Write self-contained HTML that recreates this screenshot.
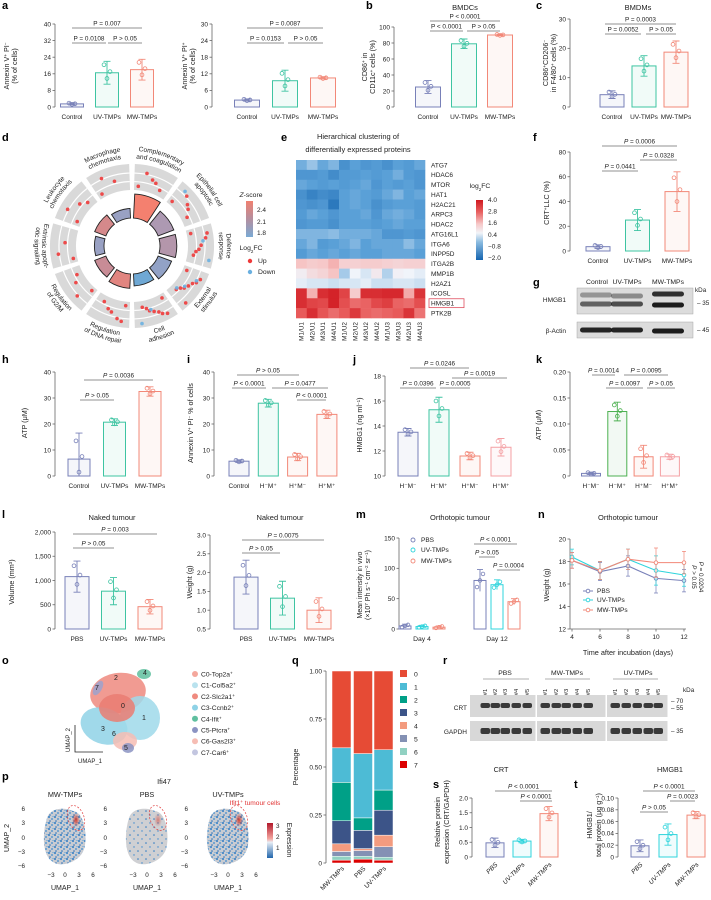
<!DOCTYPE html>
<html><head><meta charset="utf-8">
<style>
html,body{margin:0;padding:0;background:#fff;}
svg{display:block;font-family:"Liberation Sans",sans-serif;}
</style></head>
<body>
<svg id="fig" width="711" height="900" viewBox="0 0 711 900" xmlns="http://www.w3.org/2000/svg">
<defs>
<linearGradient id="zgrad" x1="0" y1="0" x2="0" y2="1"><stop offset="0" stop-color="#f08070"/><stop offset="0.5" stop-color="#b48fa0"/><stop offset="1" stop-color="#7aaad4"/></linearGradient>
<linearGradient id="fcgrad" x1="0" y1="0" x2="0" y2="1"><stop offset="0" stop-color="#d0181f"/><stop offset="0.2" stop-color="#e86060"/><stop offset="0.4" stop-color="#f6c8c8"/><stop offset="0.55" stop-color="#f2f4f8"/><stop offset="0.7" stop-color="#8cbce0"/><stop offset="1" stop-color="#1565b0"/></linearGradient>
<linearGradient id="exgrad" x1="0" y1="0" x2="0" y2="1"><stop offset="0" stop-color="#b2182b"/><stop offset="0.45" stop-color="#f4a6a0"/><stop offset="0.55" stop-color="#e8eef5"/><stop offset="1" stop-color="#2166ac"/></linearGradient>
<pattern id="dotsDense" width="6" height="6" patternUnits="userSpaceOnUse"><rect width="6" height="6" fill="#c9ccd2"/><circle cx="1" cy="1" r="1" fill="#2f7cc4"/><circle cx="4" cy="3" r="0.9" fill="#3a8ad0"/><circle cx="2" cy="5" r="0.8" fill="#2a6fb8"/><circle cx="5" cy="0.5" r="0.6" fill="#5aa0d8"/></pattern>
<pattern id="dotsSparse" width="8" height="8" patternUnits="userSpaceOnUse"><rect width="8" height="8" fill="#cfd0d3"/><circle cx="2" cy="3" r="0.8" fill="#2f7cc4"/><circle cx="6" cy="7" r="0.7" fill="#3a8ad0"/></pattern>
<radialGradient id="hot" cx="0.5" cy="0.5" r="0.5"><stop offset="0" stop-color="#d7301f"/><stop offset="1" stop-color="#d7301f" stop-opacity="0"/></radialGradient>
</defs>
</svg>
<script>
// ---------------- DATA ----------------
const groups3 = ["Control","UV-TMPs","MW-TMPs"];
const groupsPBS = ["PBS","UV-TMPs","MW-TMPs"];
const groupsHM = ["H\u207bM\u207b","H\u207bM\u207a","H\u207aM\u207b","H\u207aM\u207a"];
const groupsHMc = ["Control","H\u207bM\u207a","H\u207aM\u207b","H\u207aM\u207a"];
const a1Vals=[1.5,16.5,18]; const a1Err=[0.5,5.5,5];
const a2Vals=[2.5,9.5,10.5]; const a2Err=[0.4,3.8,0.4];
const bVals=[25,79,90]; const bErr=[8,6,1];
const cVals=[4.2,14,18.7]; const cErr=[1.3,3.5,3.8];
const fVals=[3.5,25,48]; const fErr=[1.5,8.5,16];
const hVals=[6.5,20.7,32.5]; const hErr=[10,1.3,1.8];
const iVals=[5.7,28,7.3,23.7]; const iErr=[0.5,1.5,1.4,1.6];
const jVals=[13.5,15.3,11.6,12.3]; const jErr=[0.3,1.0,0.3,0.7];
const kVals=[0.005,0.124,0.037,0.037]; const kErr=[0.002,0.018,0.022,0.005];
const l1Vals=[1080,780,460]; const l1Err=[320,280,150];
const l2Vals=[1.88,1.32,1.0]; const l2Err=[0.45,0.45,0.33];
const mDays=["Day 4","Day 12"];
const mPBS=[5,80]; const mUV=[4,73]; const mMW=[3,45];
const mPBSErr=[3,18]; const mUVErr=[2,8]; const mMWErr=[2,5];
const nDays=[4,6,8,10,12];
const nPBS=[18.1,17.1,17.6,16.5,16.3]; const nUV=[18.4,17.2,18.2,17.2,16.8]; const nMW=[18.1,17.2,18.2,17.9,17.9];
const nErr=[0.7,0.8,0.9,1.3,1.0];
const sVals=[0.48,0.54,1.47]; const sErr=[0.16,0.06,0.24];
const tVals=[0.019,0.038,0.071]; const tErr=[0.01,0.018,0.006];
const qCats=["MW-TMPs","PBS","UV-TMPs"];
const qClusters=["0","1","2","3","4","5","6","7"];
const qMW=[0.40,0.18,0.20,0.12,0.04,0.025,0.02,0.015];
const qPBS=[0.43,0.335,0.065,0.095,0.01,0.03,0.015,0.02];
const qUV=[0.41,0.21,0.105,0.13,0.06,0.055,0.015,0.015];
const heatRows=["ATG7","HDAC6","MTOR","HAT1","H2AC21","ARPC3","HDAC2","ATG16L1","ITGA6","INPP5D","ITGA2B","MMP1B","H2AZ1","ICOSL","HMGB1","PTK2B"];
const heatCols=["M1/U1","M2/U1","M3/U1","M4/U1","M1/U2","M2/U2","M3/U2","M4/U2","M1/U3","M3/U3","M2/U3","M4/U3"];
const heatVals=[
[-0.6,-0.3,-0.7,-0.5,-1.1,-0.8,-1.0,-0.9,-1.1,-0.8,-0.9,-0.7],
[-1.0,-1.0,-0.9,-1.2,-0.9,-0.9,-0.8,-0.9,-0.8,-0.6,-0.9,-1.0],
[-0.7,-0.8,-0.9,-0.8,-0.9,-0.8,-0.7,-1.0,-0.8,-0.9,-0.8,-1.0],
[-1.1,-1.4,-1.2,-1.3,-0.8,-0.7,-0.8,-0.9,-0.7,-0.5,-0.8,-0.7],
[-1.0,-1.1,-1.0,-1.6,-0.8,-0.7,-0.8,-1.1,-0.9,-0.8,-0.8,-0.9],
[-0.9,-0.7,-0.8,-1.0,-0.8,-0.8,-0.7,-1.0,-0.7,-0.6,-0.7,-0.9],
[-1.0,-0.9,-0.9,-1.1,-0.8,-0.8,-0.8,-0.9,-0.8,-0.7,-0.8,-0.8],
[-0.5,-0.5,-0.5,-0.4,-0.6,-0.6,-0.6,-0.7,-1.0,-1.0,-0.9,-1.0],
[-0.7,-0.5,-0.9,-0.8,-0.7,-0.5,-0.8,-0.7,-0.7,-0.7,-0.4,-0.7],
[-0.9,-0.7,-0.8,-0.7,-0.8,-0.7,-0.8,-0.8,-0.7,-0.7,-0.7,-0.8],
[1.6,1.4,1.5,1.8,1.3,1.3,1.4,1.4,1.3,1.2,1.3,1.3],
[0.6,1.0,1.2,1.6,-0.2,0.4,0.2,0.7,-0.1,0.5,0.4,0.3],
[0.3,0.2,0.2,0.1,0.2,0.2,0.3,0.1,0.1,0.2,0.2,0.1],
[3.6,1.8,3.6,3.8,3.2,1.4,3.6,3.6,3.7,3.7,1.9,3.5],
[3.6,3.2,3.1,3.8,3.0,2.6,2.7,3.1,3.3,2.7,2.6,3.0],
[2.8,3.6,2.9,2.6,2.8,3.4,2.7,2.6,2.7,2.8,3.5,2.5]];
const goTerms=[["Complementary","and coagulation"],["Epithelial cell","apoptotic"],["Defence","response"],["External","stimulus"],["Cell","adhesion"],["Regulation","of DNA repair"],["Regulation","of G2/M"],["Extrinsic apopt-","otic signaling"],["Leukocyte","chemotaxis"],["Macrophage","chemotaxis"]];
const goZ=[2.7,2.15,2.2,1.95,1.7,2.55,2.35,2.0,2.45,2.0];
const goCount=[10,7,7,6,5,6,5,4,5,4];
const goUp=[5,5,7,9,8,6,4,3,4,3];
const goDown=[0,1,2,3,2,0,0,0,0,0];
const umapClusters=["C0-Top2a","C1-Col5a2","C2-Slc2a1","C3-Ccnb2","C4-Ifit","C5-Ptcra","C6-Gas2l3","C7-Car6"];

// ---------------- HELPERS ----------------
const NS="http://www.w3.org/2000/svg";
const svg=document.getElementById("fig");
const C_CTRL="#7880b8", C_UV="#3ec4a2", C_MW="#f28878", C_GREEN="#4cb050", C_PINK="#f4a0a4", C_CYAN="#2fd4dc";
function mk(tag,attrs,parent){const e=document.createElementNS(NS,tag);for(const k in attrs)e.setAttribute(k,attrs[k]);(parent||svg).appendChild(e);return e;}
function T(x,y,s,opt){const t=mk("text",Object.assign({x:x,y:y,"font-size":6.8,"text-anchor":"middle",fill:"#222"},opt||{}));t.innerHTML=s;return t;}
const sup=s=>'<tspan baseline-shift="super" font-size="4.6">'+s+'</tspan>';
function label(x,y,s,name,opt){const t=T(x,y,s,opt);


return t;}
function rlabel(x,y,s,name,size){const t=T(x,y,s,{transform:"rotate(-90 "+x+" "+y+")","font-size":size||7.2});


return t;}
function letter(x,y,s){const t=T(x,y,s,{"font-size":11,"font-weight":"bold","text-anchor":"start",fill:"#000"});

}
function bracket(x1,x2,y,s){const l=mk("line",{x1:x1,x2:x2,y1:y,y2:y,stroke:"#a8a8a8","stroke-width":1.3});


const t=T((x1+x2)/2,y-2.3,s,{"font-size":6.4});

}
function yAxis(cfg,ticks,labels){
 const y=v=>cfg.yBot-(v-cfg.min)/(cfg.max-cfg.min)*(cfg.yBot-cfg.yTop);
 const ax=mk("line",{x1:cfg.ax,x2:cfg.ax,y1:cfg.yBot,y2:cfg.yTop,stroke:"#666","stroke-width":0.8});
 
 
 ticks.forEach((v,i)=>{
  const tk=mk("line",{x1:cfg.ax-2.5,x2:cfg.ax,y1:y(v),y2:y(v),stroke:"#666","stroke-width":0.8});
  
  
  const tl=T(cfg.ax-4,y(v)+2.3,labels[i],{"text-anchor":"end","font-size":6.5});
  
  
 });
 return y;
}
function barChart(cfg,cats,vals,errs,cols,ticks,labels){
 const y=yAxis(cfg,ticks,labels);
 const x=i=>cfg.x0+i*cfg.step;
 vals.forEach((v,i)=>{
  const b=mk("rect",{x:x(i)-cfg.bw/2,y:y(v),width:cfg.bw,height:cfg.yBot-y(v),fill:cols[i],"fill-opacity":0.07,stroke:cols[i],"stroke-width":1});
  
  
  const e=errs[i], lo=Math.max(cfg.min,v-e);
  const el=mk("path",{d:"M"+x(i)+","+y(lo)+"V"+y(v+e)+"M"+(x(i)-3.5)+","+y(v+e)+"h7M"+(x(i)-3.5)+","+y(lo)+"h7",stroke:cols[i],"stroke-width":0.9,fill:"none"});
  
  
  [[-3,0.7],[0,-0.5],[3,0.1]].forEach(p=>{
   const c=mk("circle",{cx:x(i)+p[0],cy:y(Math.max(cfg.min,v+p[1]*e)),r:1.9,fill:"none",stroke:cols[i],"stroke-width":0.8});
   
   
  });
  let cl;
  if(cfg.rot){cl=T(x(i)+3,cfg.yBot+8,cats[i],{"text-anchor":"end","font-size":6.5,transform:"rotate(-45 "+(x(i)+3)+" "+(cfg.yBot+8)+")","font-style":"italic"});}
  else cl=T(x(i),cfg.yBot+12,cats[i],{"font-size":6.5});
  
  
 });
 return y;
}

// ---------------- PANEL LETTERS ----------------
[["a",2,9],["b",366,9],["c",536,9],["d",2,141],["e",281,141],["f",533,141],["g",533,286],["h",2,363],["i",187,363],["j",353,363],["k",536,363],["l",2,518],["m",356,518],["n",538,518],["o",2,664],["p",2,780],["q",292,664],["r",443,664],["s",433,788],["t",574,788]].forEach(a=>letter(a[1],a[2],a[0]));

// ---------------- a ----------------
barChart({name:"a1",ax:55,yBot:107,yTop:24,min:0,max:40,x0:72,step:35,bw:23},groups3,a1Vals,a1Err,[C_CTRL,C_UV,C_MW],[0,8,16,24,32,40],["0","8","16","24","32","40"]);
bracket(72,142,28,"P = 0.007"); bracket(72,106,43,"P = 0.0108"); bracket(108,142,43,"P > 0.05");
rlabel(9,66,"Annexin V"+sup("+")+" PI"+sup("\u2212"),"y-axis-title-a1"); rlabel(17,66,"(% of cells)","y-axis-title-a1b");
barChart({name:"a2",ax:212,yBot:107,yTop:24,min:0,max:30,x0:247,step:38,bw:25},groups3,a2Vals,a2Err,[C_CTRL,C_UV,C_MW],[0,6,12,18,24,30],["0","6","12","18","24","30"]);
bracket(247,323,28,"P = 0.0087"); bracket(247,284,43,"P = 0.0153"); bracket(288,323,43,"P > 0.05");
rlabel(187,66,"Annexin V"+sup("+")+" PI"+sup("+"),"y-axis-title-a2"); rlabel(195,66,"(% of cells)","y-axis-title-a2b");
// b
label(465,10,"BMDCs","title-b",{"font-size":7.5});
barChart({name:"b",ax:394,yBot:107,yTop:27,min:0,max:100,x0:428,step:36,bw:25},groups3,bVals,bErr,[C_CTRL,C_UV,C_MW],[0,20,40,60,80,100],["0","20","40","60","80","100"]);
bracket(430,500,21,"P &lt; 0.0001"); bracket(430,463,31,"P &lt; 0.0001"); bracket(467,500,31,"P &gt; 0.05");
rlabel(367,67,"CD86"+sup("+")+" in","y-axis-title-b"); rlabel(375,67,"CD11c"+sup("+")+" cells (%)","y-axis-title-b2");
// c
label(638,10,"BMDMs","title-c",{"font-size":7.5});
barChart({name:"c",ax:570,yBot:107,yTop:19,min:0,max:30,x0:612,step:32,bw:24},groups3,cVals,cErr,[C_CTRL,C_UV,C_MW],[0,10,20,30],["0","10","20","30"]);
bracket(605,676,24,"P = 0.0003"); bracket(605,641,34,"P = 0.0052"); bracket(646,676,34,"P &gt; 0.05");
rlabel(548,63,"CD86"+sup("+")+"CD206"+sup("\u2212"),"y-axis-title-c"); rlabel(556,63,"in F4/80"+sup("+")+" cells (%)","y-axis-title-c2");

// ---------------- d: circular GO plot ----------------
(function(){
 const cx=132, cy=246;
 const P=(a,r)=>[cx+r*Math.sin(a*Math.PI/180), cy-r*Math.cos(a*Math.PI/180)];
 const sector=(a1,a2,r1,r2)=>{const p1=P(a1,r2),p2=P(a2,r2),p3=P(a2,r1),p4=P(a1,r1);return "M"+p1+"A"+r2+","+r2+" 0 0 1 "+p2+"L"+p3+"A"+r1+","+r1+" 0 0 0 "+p4+"Z";};
 const zcol=z=>{const stops=[[1.7,[111,168,212]],[2.05,[160,160,192]],[2.35,[200,140,150]],[2.7,[244,128,111]]];
  for(let i=0;i<stops.length-1;i++){if(z<=stops[i+1][0]){const t=Math.max(0,(z-stops[i][0])/(stops[i+1][0]-stops[i][0]));const c=stops[i][1].map((v,k)=>Math.round(v+(stops[i+1][1][k]-v)*t));return "rgb("+c+")";}}
  return "rgb(244,128,111)";};
 const defs=svg.querySelector("defs");
 goTerms.forEach((term,i)=>{
  const mid=18+36*i, a1=mid-16, a2=mid+16;
  const g=mk("path",{d:sector(a1,a2,56,82),fill:"#d9d9d9"});
  
  
  [64.5,73].forEach(r=>{const p1=P(a1,r),p2=P(a2,r);const ln=mk("path",{d:"M"+p1+"A"+r+","+r+" 0 0 1 "+p2,stroke:"#fff","stroke-width":1.2,fill:"none"});
   
   });
  const bar=mk("path",{d:sector(mid-15,mid+15,28,28+goCount[i]*2.4),fill:zcol(goZ[i]),stroke:"#222","stroke-width":0.9});
  
  
  const n=goUp[i]+goDown[i];
  for(let k=0;k<n;k++){
   const frac=((k*0.618)%1), ang=a1+4+frac*(a2-a1-8), rr=60+((k*0.37)%1)*19;
   const p=P(ang,rr);
   const d=mk("circle",{cx:p[0],cy:p[1],r:1.8,fill:k<goUp[i]?"#ee3a3a":"#6ab0e0","fill-opacity":0.9});
   
   
  }
  const bottom = mid>100 && mid<290;
  term.forEach((line,li)=>{
   const r = bottom ? (li===0?90:97.5) : (li===0?95:87.5);
   const id="goarc"+i+"_"+li;
   const s1=P(mid-32,r), s2=P(mid+32,r);
   const d = bottom ? "M"+s2+"A"+r+","+r+" 0 0 0 "+s1 : "M"+s1+"A"+r+","+r+" 0 0 1 "+s2;
   mk("path",{id:id,d:d,fill:"none"},defs);
   const t=mk("text",{"font-size":6.6,fill:"#222"});
   
   
   const tp=mk("textPath",{href:"#"+id,startOffset:"50%","text-anchor":"middle"},t);
   tp.textContent=line;
  });
 });
 label(251,197,"<tspan font-style='italic'>Z</tspan>-score","zscore-legend-title",{"font-size":6.8});
 const zg=mk("rect",{x:246,y:201,width:7,height:36,fill:"url(#zgrad)"});
 
 
 [["2.4",212],["2.1",224],["1.8",235]].forEach(a=>label(257,a[1],a[0],"zscore-tick",{"text-anchor":"start","font-size":6.5}));
 label(251,250,"Log"+'<tspan baseline-shift="sub" font-size="4.5">2</tspan>'+"FC","log2fc-legend-title",{"font-size":6.8});
 [["Up","#ee3a3a",263],["Down","#6ab0e0",274]].forEach(a=>{
  const c=mk("circle",{cx:250,cy:a[2]-2,r:2.2,fill:a[1]});
  
  
  label(258,a[2],a[0],"legend-label",{"text-anchor":"start","font-size":6.8});
 });
})();

// ---------------- e: heatmap ----------------
(function(){
 const x0=296,y0=160,cw=10.75,rh=10.6;
 const stops=[[-2,[21,101,176]],[-0.8,[90,160,215]],[0.4,[240,244,250]],[1.6,[246,196,196]],[2.8,[232,90,90]],[4,[208,24,31]]];
 const col=v=>{for(let i=0;i<stops.length-1;i++){if(v<=stops[i+1][0]){const t=Math.max(0,(v-stops[i][0])/(stops[i+1][0]-stops[i][0]));return "rgb("+stops[i][1].map((c,k)=>Math.round(c+(stops[i+1][1][k]-c)*t))+")";}}return "rgb(208,24,31)";};
 label(358,139,"Hierarchical clustering of","heatmap-title",{"font-size":7.5});
 label(358,152,"differentially expressed proteins","heatmap-title-2",{"font-size":7.5});
 const rows=heatRows.slice(0,heatVals.length);
 // use 15 visible rows (drop duplicate ordering if any)
 const visible=[0,1,2,3,4,5,6,7,8,9,10,11,12,13,14,15].filter(i=>i<heatVals.length);
 const rh2=(318-y0)/visible.length;
 visible.forEach((ri,r)=>{
  heatVals[ri].forEach((v,c)=>{
   const cell=mk("rect",{x:x0+c*cw,y:y0+r*rh2,width:cw+0.3,height:rh2+0.3,fill:col(v)});
   
   
  });
  label(431,y0+r*rh2+rh2/2+2.4,heatRows[ri],"heatmap-row-label",{"text-anchor":"start","font-size":6.5});
 });
 const hb=mk("rect",{x:429,y:y0+14*rh2+0.5,width:35,height:rh2-1,fill:"none",stroke:"#e05060","stroke-width":0.8});
 
 
 heatCols.forEach((s,c)=>{const x=x0+c*cw+cw/2+2.3;const t=T(x,322,s,{"text-anchor":"end","font-size":6.4,transform:"rotate(-90 "+x+" 322)"});
  
  });
 label(480,188,"log"+'<tspan baseline-shift="sub" font-size="4.5">2</tspan>'+"FC","heatmap-legend-title",{"font-size":6.8});
 const cb=mk("rect",{x:476,y:200,width:7,height:60,fill:"url(#fcgrad)"});
 
 
 ["4.0","2.8","1.6","0.4","\u22120.8","\u22122.0"].forEach((s,i)=>label(488,202+i*11.6,s,"colorbar-tick",{"text-anchor":"start","font-size":6.5}));
})();

// ---------------- f ----------------
barChart({name:"f",ax:570,yBot:251,yTop:152,min:0,max:80,x0:598,step:39.5,bw:24},groups3,fVals,fErr,[C_CTRL,C_UV,C_MW],[0,20,40,60,80],["0","20","40","60","80"]);
bracket(602,677,146,"<tspan font-style='italic'>P</tspan> = 0.0006"); bracket(640,677,160,"<tspan font-style='italic'>P</tspan> = 0.0328"); bracket(602,638,171,"<tspan font-style='italic'>P</tspan> = 0.0441");
rlabel(549,203,"CRT"+sup("+")+"LLC (%)","y-axis-title-f");

// ---------------- g: western blot ----------------
(function(){
 [["Control",597],["UV-TMPs",627],["MW-TMPs",668]].forEach(a=>label(a[1],284,a[0],"blot-lane-label",{"font-size":6.8}));
 const b1=mk("rect",{x:577,y:288,width:116,height:26,fill:"#dcdcdc",stroke:"#999","stroke-width":0.4});
 
 
 const b2=mk("rect",{x:577,y:322,width:116,height:16,fill:"#dcdcdc",stroke:"#999","stroke-width":0.4});
 
 
 [[596,295,0.35],[596,304,0.6],[627,296,0.4],[627,304,0.7],[668,294,0.85],[668,305,0.95],[596,330,0.9],[627,330,0.9],[668,331,0.95]].forEach(b=>{
  const r=mk("rect",{x:b[0]-16,y:b[1]-2.5,width:32,height:5,rx:2.5,fill:"#111","fill-opacity":b[2]});
  
  
 });
 label(566,302,"HMGB1","blot-row-label",{"text-anchor":"end","font-size":6.5});
 label(566,333,"\u03b2-Actin","blot-row-label",{"text-anchor":"end","font-size":6.5});
 label(695,292,"kDa","kda-label",{"text-anchor":"start","font-size":6.3});
 label(697,305,"\u2013 35","kda-35",{"text-anchor":"start","font-size":6.3});
 label(697,332,"\u2013 45","kda-45",{"text-anchor":"start","font-size":6.3});
})();

// ---------------- h i j k ----------------
barChart({name:"h",ax:55,yBot:476,yTop:372,min:0,max:40,x0:79,step:35.5,bw:22},groups3,hVals,hErr,[C_CTRL,C_UV,C_MW],[0,10,20,30,40],["0","10","20","30","40"]);
bracket(84,153,380,"<tspan font-style='italic'>P</tspan> = 0.0036"); bracket(80,114,400,"<tspan font-style='italic'>P</tspan> &gt; 0.05");
rlabel(27,423,"ATP (\u03bcM)","y-axis-title-h");
barChart({name:"i",ax:214,yBot:476,yTop:372,min:0,max:40,x0:239,step:29.3,bw:20},groupsHMc,iVals,iErr,[C_CTRL,C_UV,C_MW,C_MW],[0,10,20,30,40],["0","10","20","30","40"]);
bracket(237,299,375,"<tspan font-style='italic'>P</tspan> &gt; 0.05"); bracket(232,266,388,"<tspan font-style='italic'>P</tspan> &lt; 0.0001"); bracket(272,328,388,"<tspan font-style='italic'>P</tspan> = 0.0477"); bracket(297,326,400,"<tspan font-style='italic'>P</tspan> &lt; 0.0001");
rlabel(193,423,"Annexin V"+sup("+")+" PI"+sup("\u2212")+" % of cells","y-axis-title-i");
barChart({name:"j",ax:385,yBot:476,yTop:376,min:10,max:18,x0:408,step:31,bw:20},groupsHM,jVals,jErr,[C_CTRL,C_UV,C_MW,C_PINK],[10,12,14,16,18],["10","12","14","16","18"]);
bracket(410,469,368,"<tspan font-style='italic'>P</tspan> = 0.0246"); bracket(452,507,378,"<tspan font-style='italic'>P</tspan> = 0.0019"); bracket(400,436,388,"<tspan font-style='italic'>P</tspan> = 0.0396"); bracket(440,470,388,"<tspan font-style='italic'>P</tspan> = 0.0005");
rlabel(362,425,"HMBG1 (ng ml"+sup("\u22121")+")","y-axis-title-j");
barChart({name:"k",ax:570,yBot:476,yTop:372,min:0,max:0.20,x0:591,step:26.3,bw:19},groupsHM,kVals,kErr,[C_CTRL,C_GREEN,C_MW,C_PINK],[0,0.05,0.10,0.15,0.20],["0","0.05","0.10","0.15","0.20"]);
bracket(592,615,375,"<tspan font-style='italic'>P</tspan> = 0.0014"); bracket(624,668,375,"<tspan font-style='italic'>P</tspan> = 0.0095"); bracket(606,643,388,"<tspan font-style='italic'>P</tspan> = 0.0097"); bracket(647,675,388,"<tspan font-style='italic'>P</tspan> &gt; 0.05");
rlabel(541,425,"ATP (\u03bcM)","y-axis-title-k");

// ---------------- l ----------------
label(112,520,"Naked tumour","title-l1",{"font-size":7.5});
barChart({name:"l1",ax:55,yBot:629,yTop:532,min:0,max:2000,x0:77,step:36.5,bw:24},groupsPBS,l1Vals,l1Err,[C_CTRL,C_UV,C_MW],[0,500,1000,1500,2000],["0","500","1,000","1,500","2,000"]);
bracket(73,157,534,"<tspan font-style='italic'>P</tspan> = 0.003"); bracket(73,114,548,"<tspan font-style='italic'>P</tspan> &gt; 0.05");
rlabel(14,582,"Volume (mm"+sup("3")+")","y-axis-title-l1");
label(280,520,"Naked tumour","title-l2",{"font-size":7.5});
barChart({name:"l2",ax:210,yBot:629,yTop:535,min:0.5,max:3.0,x0:246,step:36.5,bw:24},groupsPBS,l2Vals,l2Err,[C_CTRL,C_UV,C_MW],[0.5,1,1.5,2,2.5,3],["0.5","1.0","1.5","2.0","2.5","3.0"]);
bracket(242,324,540,"<tspan font-style='italic'>P</tspan> = 0.0075"); bracket(242,280,553,"<tspan font-style='italic'>P</tspan> &gt; 0.05");
rlabel(192,582,"Weight (g)","y-axis-title-l2");

// ---------------- m ----------------
(function(){
 label(460,520,"Orthotopic tumour","title-m",{"font-size":7.5});
 const y=yAxis({ax:399,yBot:629,yTop:538,min:0,max:150},[0,50,100,150],["0","50","100","150"]);
 const centers=[422,497], off=17;
 const series=[[mPBS,mPBSErr,C_CTRL],[mUV,mUVErr,C_CYAN],[mMW,mMWErr,C_MW]];
 mDays.forEach((d,di)=>{
  series.forEach((s,si)=>{
   const x=centers[di]+(si-1)*off, v=s[0][di], e=s[1][di];
   const b=mk("rect",{x:x-6,y:y(v),width:12,height:629-y(v),fill:"none",stroke:s[2],"stroke-width":1});
   
   
   const eb=mk("path",{d:"M"+x+","+y(Math.max(0,v-e))+"V"+y(v+e)+"M"+(x-3)+","+y(v+e)+"h6",stroke:s[2],"stroke-width":0.9,fill:"none"});
   
   
   [-3,0,3].forEach((dx,k)=>{const c=mk("circle",{cx:x+dx,cy:y(Math.max(0,v+(k-1)*e*0.6)),r:1.8,fill:"none",stroke:s[2],"stroke-width":0.8});
    
    });
  });
  label(centers[di],641,d,"x-category-label",{"font-size":6.8});
 });
 [["PBS",C_CTRL,542],["UV-TMPs",C_CYAN,552],["MW-TMPs",C_MW,563]].forEach(a=>{
  const c=mk("circle",{cx:413,cy:a[2]-2,r:2,fill:"none",stroke:a[1],"stroke-width":0.9});
  
  
  label(421,a[2],a[0],"legend-label",{"text-anchor":"start","font-size":6.5});
 });
 bracket(474,517,544,"<tspan font-style='italic'>P</tspan> &lt; 0.0001"); bracket(479,495,557,"<tspan font-style='italic'>P</tspan> &gt; 0.05"); bracket(497,520,570,"<tspan font-style='italic'>P</tspan> = 0.0004");
 rlabel(362,585,"Mean intensity in vivo","y-axis-title-m",7);
 rlabel(370,585,"(\u00d710"+sup("7")+" Ph s"+sup("\u22121")+" cm"+sup("\u22122")+" sr"+sup("\u22121")+")","y-axis-title-m2",7);
})();

// ---------------- n: line chart ----------------
(function(){
 label(628,520,"Orthotopic tumour","title-n",{"font-size":7.5});
 const y=yAxis({ax:570,yBot:629,yTop:539,min:12,max:20},[12,14,16,18,20],["12","14","16","18","20"]);
 const x=d=>572+(d-4)/(12-4)*(684-572);
 const xa=mk("line",{x1:570,x2:686,y1:629,y2:629,stroke:"#666","stroke-width":0.8});
 
 
 nDays.forEach(d=>{const tk=mk("line",{x1:x(d),x2:x(d),y1:629,y2:631.5,stroke:"#666","stroke-width":0.8});
  
  
  label(x(d),639,String(d),"x-tick-label",{"font-size":6.5});});
 [[nPBS,C_CTRL,"PBS"],[nUV,C_CYAN,"UV-TMPs"],[nMW,C_MW,"MW-TMPs"]].forEach(s=>{
  const pts=s[0].map((v,i)=>x(nDays[i])+","+y(v)).join(" ");
  const pl=mk("polyline",{points:pts,fill:"none",stroke:s[1],"stroke-width":1.1});
  
  
  s[0].forEach((v,i)=>{
   const e=nErr[i], xx=x(nDays[i]);
   const eb=mk("path",{d:"M"+xx+","+y(v-e)+"V"+y(v+e)+"M"+(xx-2)+","+y(v+e)+"h4M"+(xx-2)+","+y(v-e)+"h4",stroke:s[1],"stroke-width":0.7,fill:"none"});
   
   
   const c=mk("circle",{cx:xx,cy:y(v),r:1.8,fill:"#fff",stroke:s[1],"stroke-width":0.9});
   
   
  });
 });
 [["PBS",C_CTRL,593],["UV-TMPs",C_CYAN,602],["MW-TMPs",C_MW,612]].forEach(a=>{
  const l=mk("line",{x1:583,x2:593,y1:a[2]-2,y2:a[2]-2,stroke:a[1],"stroke-width":1});
  
  
  const c=mk("circle",{cx:588,cy:a[2]-2,r:1.8,fill:"#fff",stroke:a[1],"stroke-width":0.9});
  
  
  label(597,a[2],a[0],"legend-label",{"text-anchor":"start","font-size":6.5});
 });
 const t1=T(692,577,"<tspan font-style='italic'>P</tspan> &gt; 0.05",{"font-size":6.3,transform:"rotate(90 692 577)"});
 
 
 const t2=T(699,577,"<tspan font-style='italic'>P</tspan> = 0.0204",{"font-size":6.3,transform:"rotate(90 699 577)"});
 
 
 label(628,655,"Time after incubation (days)","x-axis-title-n",{"font-size":7.3});
 rlabel(549,585,"Weight (g)","y-axis-title-n");
})();

// ---------------- o: UMAP ----------------
(function(){
 const cols=["#f4a79c","#b9e2ee","#ef8a7f","#8ed2e6","#5fbf9f","#8b93c2","#f6bdb4","#c3c6e0"];
 [[118,693,28,20,"#ef8a7f",-10],[104,726,24,18,"#8fd2e6",20],[140,718,20,22,"#9fd9ea",0],[117,708,18,14,"#ea7d72",0],[125,741,12,9,"#f6bdb4",0],[128,748,6,5,"#8b93c2",0],[144,674,7,5,"#5fbf9f",0],[98,688,4,8,"#9da2cc",30]].forEach(e=>{
  const el=mk("ellipse",{cx:e[0],cy:e[1],rx:e[2],ry:e[3],fill:e[4],"fill-opacity":0.85,transform:"rotate("+e[5]+" "+e[0]+" "+e[1]+")"});
  
  
 });
 [["2",116,680],["4",145,675],["7",97,690],["0",123,708],["1",144,720],["3",103,731],["6",114,736],["5",126,750]].forEach(a=>label(a[1],a[2],a[0],"umap-cluster-number",{"font-size":7}));
 const ax=mk("path",{d:"M75,725V752H103",fill:"none",stroke:"#222","stroke-width":0.8});
 
 
 rlabel(70,740,"UMAP_2","umap-y-label",6);
 label(90,763,"UMAP_1","umap-x-label",{"font-size":6});
 umapClusters.forEach((c,i)=>{
  const d=mk("circle",{cx:195,cy:674+i*11.2,r:3,fill:cols[i]});
  
  
  label(201,676.5+i*11.2,c+sup("+"),"umap-legend-label",{"text-anchor":"start","font-size":6.7});
 });
})();

// ---------------- p: feature plots ----------------
(function(){
 label(164,784,"Ifi47","title-p",{"font-size":7.3});
 const panels=[["MW-TMPs",65,"url(#dotsDense)",0.9],["PBS",147,"url(#dotsSparse)",0.5],["UV-TMPs",228,"url(#dotsDense)",0.9]];
 panels.forEach(p=>{
  const cx=p[1];
  label(cx,797,p[0],"feature-plot-title",{"font-size":7.3});
  const blob="M"+(cx-18)+",818 C"+(cx-14)+",806 "+(cx+2)+",808 "+(cx+8)+",811 C"+(cx+18)+",812 "+(cx+22)+",830 "+(cx+20)+",845 C"+(cx+18)+",862 "+(cx-4)+",868 "+(cx-12)+",862 C"+(cx-24)+",855 "+(cx-22)+",830 "+(cx-18)+",818Z";
  const b=mk("path",{d:blob,fill:p[2]});
  
  
  const h=mk("ellipse",{cx:cx+11,cy:820,rx:4,ry:7,fill:"url(#hot)","fill-opacity":p[3]});
  
  
  const de=mk("ellipse",{cx:cx+11,cy:818,rx:8,ry:13,fill:"none",stroke:"#e04040","stroke-width":0.7,"stroke-dasharray":"2,1.5",transform:"rotate(-20 "+(cx+11)+" 818)"});
  
  
  [["6",809],["3",823],["0",838],["\u22123",852],["\u22126",866]].forEach(a=>label(cx-40,a[1]+2,a[0],"y-tick-label",{"text-anchor":"end","font-size":6.3}));
  [["\u22123",-14],["0",0],["3",14],["6",28]].forEach(a=>label(cx+a[1],877,a[0],"x-tick-label",{"font-size":6.3}));
  label(cx,890,"UMAP_1","x-axis-title",{"font-size":7});
 });
 rlabel(9,838,"UMAP_2","y-axis-title-p",7);
 label(255,805,"Ifit1"+sup("+")+" tumour cells","annotation-ifit1",{"font-size":6.6,fill:"#e03030"});
 const cb=mk("rect",{x:267,y:823,width:6,height:35,fill:"url(#exgrad)"});
 
 
 [["3",826],["2",837],["1",848]].forEach(a=>label(276,a[1]+2,a[0],"colorbar-tick",{"text-anchor":"start","font-size":6.3}));
 const ex=T(287,840,"Expression",{"font-size":7,transform:"rotate(90 287 840)"});
 
 
})();

// ---------------- q: stacked bars ----------------
(function(){
 const qCols=["#e64b35","#4dbbd5","#00a087","#3c5488","#f39b7f","#8491b4","#91d1c2","#dc0000"];
 const y=yAxis({ax:326,yBot:863,yTop:671,min:0,max:1},[0,0.25,0.5,0.75,1],["0","0.25","0.50","0.75","1.00"]);
 const data=[qMW,qPBS,qUV], centers=[341.5,363,383.5];
 data.forEach((d,ci)=>{
  let acc=0;
  for(let k=d.length-1;k>=0;k--){
   const y1=y(acc+d[k]), y2=y(acc);
   const r=mk("rect",{x:centers[ci]-9.5,y:y1,width:19,height:y2-y1,fill:qCols[k],stroke:"#fff","stroke-width":0.5});
   
   
   acc+=d[k];
  }
  const t=T(centers[ci]+3,869,qCats[ci],{"text-anchor":"end","font-size":6.5,transform:"rotate(-45 "+(centers[ci]+3)+" 869)"});
  
  
 });
 qClusters.forEach((c,i)=>{
  const s=mk("rect",{x:400,y:670+i*13,width:7,height:7,fill:qCols[i]});
  
  
  label(414,676.5+i*13,c,"legend-label",{"text-anchor":"start","font-size":6.8});
 });
 rlabel(298,767,"Percentage","y-axis-title-q");
})();

// ---------------- r: western blot ----------------
(function(){
 [["PBS",505,483,529],["MW-TMPs",567,545,590],["UV-TMPs",638,613,658]].forEach(g=>{
  label(g[1],675,g[0],"blot-group-label",{"font-size":6.8});
  const l=mk("line",{x1:g[2],x2:g[3],y1:679,y2:679,stroke:"#999","stroke-width":0.7});
  
  
 });
 const lanes=[[485,495,505,516,527],[545,556,566,577,588],[615,626,637,648,658]];
 lanes.forEach(gr=>gr.forEach((x,i)=>{const t=T(x+2,692,"#"+(i+1),{"font-size":5.8,transform:"rotate(-90 "+(x+2)+" 692)","text-anchor":"middle"});
  
  }));
 [[695,22,"crt-blot"],[721,20,"gapdh-blot"]].forEach(b=>{
  [[470,536],[537,606],[607,668]].forEach(seg=>{
   const r=mk("rect",{x:seg[0],y:b[0],width:seg[1]-seg[0]-0.5,height:b[1],fill:"#d8d8d8"});
   
   
  });
  lanes.forEach(gr=>gr.forEach(x=>{
   const r=mk("rect",{x:x-4.5,y:b[0]+b[1]/2-3,width:9.5,height:b[2]==="crt-blot"?5:6,rx:2,fill:"#111","fill-opacity":0.8});
   
   
  }));
 });
 label(467,710,"CRT","blot-row-label",{"text-anchor":"end","font-size":6.5});
 label(467,734,"GAPDH","blot-row-label",{"text-anchor":"end","font-size":6.5});
 label(683,692,"kDa","kda-label",{"text-anchor":"start","font-size":6.3});
 label(671,703,"\u2013 70","kda-70",{"text-anchor":"start","font-size":6.3});
 label(671,710,"\u2013 55","kda-55",{"text-anchor":"start","font-size":6.3});
 label(671,733,"\u2013 35","kda-35",{"text-anchor":"start","font-size":6.3});
})();

// ---------------- s, t ----------------
label(501,772,"CRT","title-s",{"font-size":7.3});
barChart({name:"s",ax:472,yBot:857,yTop:798,min:0,max:2.0,x0:495,step:27,bw:18,rot:true},groupsPBS,sVals,sErr,[C_CTRL,C_CYAN,C_MW],[0,0.5,1,1.5,2],["0","0.5","1.0","1.5","2.0"]);
bracket(495,552,791,"<tspan font-style='italic'>P</tspan> &lt; 0.0001"); bracket(520,552,801,"<tspan font-style='italic'>P</tspan> &lt; 0.0001");
rlabel(440,822,"Relative protein","y-axis-title-s"); rlabel(449,822,"expression (CRT/GAPDH)","y-axis-title-s2");
label(670,772,"HMGB1","title-t",{"font-size":7.3});
barChart({name:"t",ax:618,yBot:857,yTop:798,min:0,max:0.10,x0:640,step:28,bw:18,rot:true},groupsPBS,tVals,tErr,[C_CTRL,C_CYAN,C_MW],[0,0.02,0.04,0.06,0.08,0.10],["0","0.02","0.04","0.06","0.08","0.10"]);
bracket(643,695,791,"<tspan font-style='italic'>P</tspan> &lt; 0.0001"); bracket(670,695,801,"<tspan font-style='italic'>P</tspan> = 0.0023"); bracket(640,668,812,"<tspan font-style='italic'>P</tspan> &gt; 0.05");
rlabel(592,825,"HMGB1/","y-axis-title-t"); rlabel(601,825,"total protein (\u03bcg g"+sup("\u22121")+")","y-axis-title-t2");
</script>
</body></html>
